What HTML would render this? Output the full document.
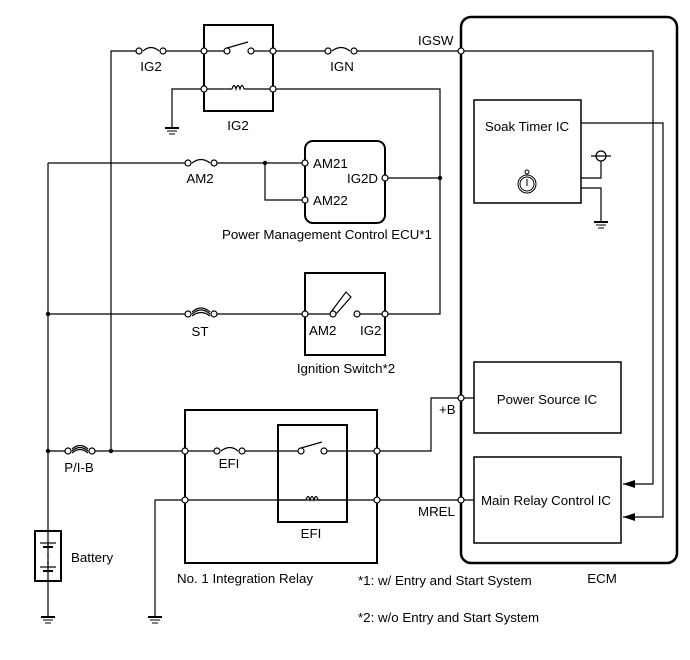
<!DOCTYPE html>
<html><head><style>body{margin:0;background:#fff}svg{display:block}text{font-family:"Liberation Sans",sans-serif;font-size:13.3px;fill:#000}</style></head><body>
<svg width="690" height="660" viewBox="0 0 690 660" xmlns="http://www.w3.org/2000/svg">
<defs>
<g id="gnd"><line x1="-7" y1="0" x2="7" y2="0" stroke="#000" stroke-width="2"/><line x1="-5" y1="3" x2="5" y2="3" stroke="#000"/><line x1="-3" y1="6" x2="3" y2="6" stroke="#000"/></g>
</defs>
<g fill="none" stroke="#000" stroke-width="1.2">
<path d="M111 451 V51 H461"/>
<path d="M48 163 V617"/>
<path d="M48 163 H305"/>
<path d="M265 163 V200 H305"/>
<path d="M385 178 H440"/>
<path d="M48 314 H305"/>
<path d="M385 314 H440 V89 H273"/>
<path d="M204 89 H172 V128"/>
<path d="M48 451 H185"/>
<path d="M377 451 H431 V398 H474"/>
<path d="M185 500 H155 V617"/>
<path d="M185 500 H377"/>
<path d="M377 500 H474"/>
<path d="M185 451 H278 M347 451 H377"/>
<path d="M461 51 H653 V484 H623"/>
<path d="M581 123 H663 V517 H623"/>
<path d="M581 178 H601 V161 M581 188 H601 V222"/>
<line x1="591" y1="156" x2="611" y2="156"/>
<circle cx="601" cy="156" r="5"/>
</g>
<g fill="none" stroke="#000" stroke-width="2">
<rect x="204" y="25" width="69" height="86"/>
<rect x="305" y="141" width="80" height="82" rx="8"/>
<rect x="305" y="273" width="80" height="82"/>
<rect x="185" y="410" width="192" height="153"/>
<rect x="278" y="425" width="69" height="97"/>
<rect x="35" y="531" width="26" height="50"/>
<rect x="461" y="17" width="216" height="546" rx="10" stroke-width="2.5"/>
<rect x="474" y="100" width="107" height="103" stroke-width="1.5"/>
<rect x="474" y="362" width="147" height="71" stroke-width="1.5"/>
<rect x="474" y="457" width="147" height="86" stroke-width="1.5"/>
</g>
<g fill="#fff" stroke="none">
<rect x="141" y="46" width="20" height="10"/><rect x="330" y="46" width="22" height="10"/>
<rect x="190" y="158" width="22" height="10"/><rect x="190" y="309" width="22" height="10"/>
<rect x="70" y="446" width="20" height="10"/><rect x="219" y="446" width="21" height="10"/>
<rect x="205" y="46" width="67" height="10"/><rect x="279" y="446" width="67" height="10"/>
<rect x="306" y="309" width="78" height="10"/>
</g>
<g fill="none" stroke="#000" stroke-width="1.2">
<path d="M204 51 H227 M251 51 H273"/><path d="M227 48 L248 42"/>
<path d="M278 451 H301 M324 451 H347"/><path d="M301 448 L322 442"/>
<path d="M305 314 H333 M357 314 H385"/>
<path d="M331 312 L346 292 L351 297 L336 314"/>
<path d="M143 51 Q151 44 159 51 M332 51 Q341 44 350 51 M192 163 Q201 156 210 163 M221 451 Q230 444 238 451"/>
<path d="M192 314 Q201 306 210 314 M192 312 Q201 304 210 312 M192 316 Q201 309 210 316"/>
<path d="M72 451 Q80 444 88 451 M72 449 Q80 442 88 449 M72 453 Q80 446 88 453"/>
<path d="M204 89 H232 M244 89 H273"/>
<path d="M232 89 q2 -7 4 0 q2 -7 4 0 q2 -7 4 0"/>
<path d="M278 500 H306 M318 500 H347"/>
<path d="M306 500 q2 -7 4 0 q2 -7 4 0 q2 -7 4 0"/>
<path d="M48 545 V549 M48 553 V557 M48 561 V565" />
</g>
<g stroke="#000">
<line x1="40" y1="543" x2="56" y2="543" stroke-width="1.2"/><line x1="43" y1="547" x2="53" y2="547" stroke-width="2"/>
<line x1="40" y1="567" x2="56" y2="567" stroke-width="1.2"/><line x1="43" y1="571" x2="53" y2="571" stroke-width="2"/>
</g>
<use href="#gnd" x="172" y="128"/><use href="#gnd" x="48" y="617"/><use href="#gnd" x="155" y="617"/><use href="#gnd" x="601" y="222"/>
<g fill="#fff" stroke="#000" stroke-width="1.2">
<circle cx="139" cy="51" r="3"/><circle cx="163" cy="51" r="3"/><circle cx="328" cy="51" r="3"/><circle cx="354" cy="51" r="3"/>
<circle cx="188" cy="163" r="3"/><circle cx="214" cy="163" r="3"/><circle cx="188" cy="314" r="3"/><circle cx="214" cy="314" r="3"/>
<circle cx="68" cy="451" r="3"/><circle cx="92" cy="451" r="3"/><circle cx="217" cy="451" r="3"/><circle cx="242" cy="451" r="3"/>
<circle cx="204" cy="51" r="3"/><circle cx="273" cy="51" r="3"/><circle cx="204" cy="89" r="3"/><circle cx="273" cy="89" r="3"/>
<circle cx="227" cy="51" r="3"/><circle cx="251" cy="51" r="3"/>
<circle cx="301" cy="451" r="3"/><circle cx="324" cy="451" r="3"/>
<circle cx="305" cy="163" r="3"/><circle cx="305" cy="200" r="3"/><circle cx="385" cy="178" r="3"/>
<circle cx="305" cy="314" r="3"/><circle cx="385" cy="314" r="3"/><circle cx="333" cy="314" r="3"/><circle cx="357" cy="314" r="3"/>
<circle cx="185" cy="451" r="3"/><circle cx="377" cy="451" r="3"/><circle cx="185" cy="500" r="3"/><circle cx="377" cy="500" r="3"/>
<circle cx="461" cy="51" r="3"/><circle cx="461" cy="398" r="3"/><circle cx="461" cy="500" r="3"/>
</g>
<g fill="#000"><circle cx="265" cy="163" r="2.2"/><circle cx="440" cy="178" r="2.2"/><circle cx="48" cy="314" r="2.2"/><circle cx="48" cy="451" r="2.2"/><circle cx="111" cy="451" r="2.2"/>
<path d="M623 484 l12 -4 v8z"/><path d="M623 517 l12 -4 v8z"/></g>
<g fill="none" stroke="#000" stroke-width="1"><circle cx="527" cy="172" r="2"/><circle cx="527" cy="184" r="9"/><circle cx="527" cy="184" r="7"/><line x1="527" y1="179" x2="527" y2="186"/></g>
<g text-anchor="middle">
<text x="151" y="71">IG2</text><text x="342" y="71">IGN</text><text x="238" y="130">IG2</text>
<text x="200" y="183">AM2</text><text x="200" y="336">ST</text><text x="79" y="472">P/I-B</text>
<text x="229" y="468">EFI</text><text x="311" y="538">EFI</text>
<text x="327" y="239">Power Management Control ECU*1</text>
<text x="346" y="373">Ignition Switch*2</text>
<text x="245" y="583">No. 1 Integration Relay</text>
<text x="602" y="583">ECM</text>
<text x="527" y="131">Soak Timer IC</text>
<text x="547" y="404">Power Source IC</text>
<text x="546" y="505">Main Relay Control IC</text>
</g>
<text x="418" y="45">IGSW</text><text x="439" y="414">+B</text><text x="418" y="516">MREL</text>
<text x="313" y="168">AM21</text><text x="313" y="205">AM22</text><text x="347" y="183">IG2D</text>
<text x="309" y="335">AM2</text><text x="360" y="335">IG2</text>
<text x="71" y="562">Battery</text>
<text x="358" y="585">*1: w/ Entry and Start System</text>
<text x="358" y="622">*2: w/o Entry and Start System</text>
</svg>
</body></html>
